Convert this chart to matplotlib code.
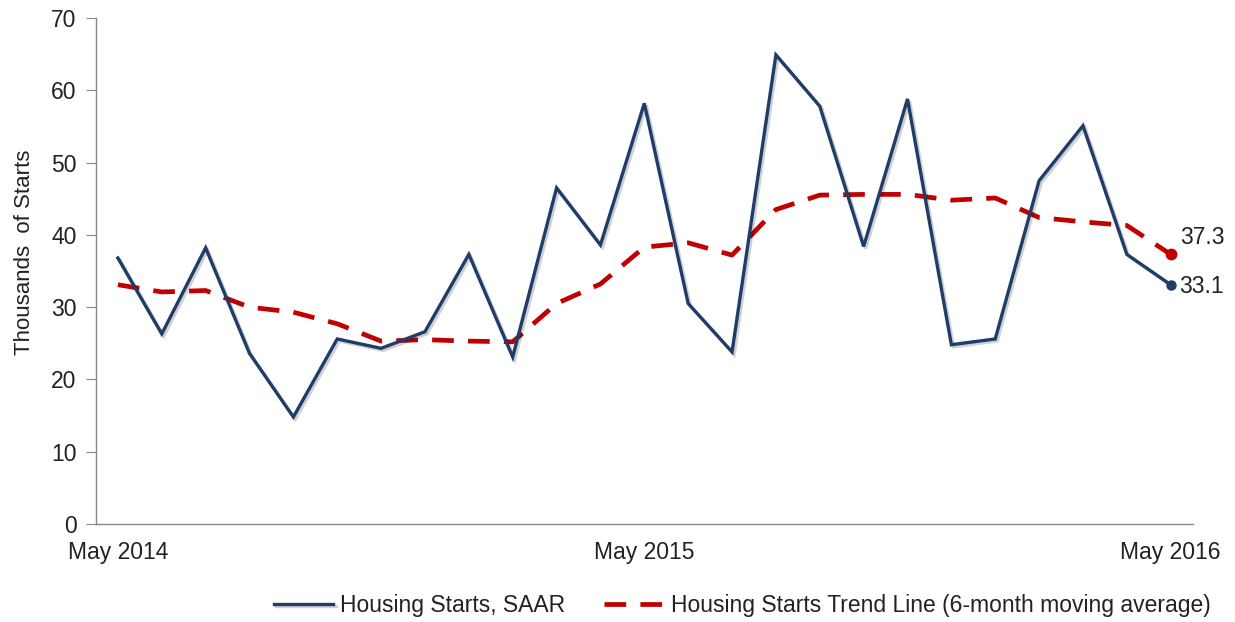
import matplotlib
matplotlib.use("Agg")
import matplotlib.pyplot as plt
import matplotlib.patheffects as pe

months = ["May 2014", "Jun 2014", "Jul 2014", "Aug 2014", "Sep 2014", "Oct 2014",
          "Nov 2014", "Dec 2014", "Jan 2015", "Feb 2015", "Mar 2015", "Apr 2015",
          "May 2015", "Jun 2015", "Jul 2015", "Aug 2015", "Sep 2015", "Oct 2015",
          "Nov 2015", "Dec 2015", "Jan 2016", "Feb 2016", "Mar 2016", "Apr 2016",
          "May 2016"]
starts = [36.8, 26.3, 38.2, 23.6, 14.8, 25.6, 24.3, 26.6, 37.3, 23.1, 46.5, 38.6,
          58.2, 30.5, 23.8, 64.9, 57.8, 38.4, 58.8, 24.8, 25.6, 47.5, 55.1, 37.3, 33.1]
trend = [33.1, 32.1, 32.3, 30.0, 29.3, 27.7, 25.3, 25.5, 25.3, 25.2, 30.5, 33.2,
         38.3, 38.9, 37.2, 43.5, 45.5, 45.6, 45.6, 44.8, 45.1, 42.4, 41.8, 41.3, 37.3]
tick_labels = ["May 2014", "May 2015", "May 2016"]
tick_idx = [0, 12, 24]

plt.rcParams['font.family'] = ['Liberation Sans', 'DejaVu Sans']

fig = plt.figure(figsize=(12.35, 6.22), dpi=100)
ax = fig.add_axes([0.0777, 0.1576, 0.888, 0.8134])

x = list(range(len(months)))
blue = '#1f3d68'
red = '#c00000'
fs = 16.5

ax.plot(x, starts, color=blue, lw=2.4, solid_joinstyle='miter',
        path_effects=[pe.SimpleLineShadow(offset=(1.5, -1.5), alpha=0.18, shadow_color='#000000'), pe.Normal()],
        label='Housing Starts, SAAR', zorder=3)
ax.plot(x, trend, color=red, lw=3.4, dashes=(4.6, 3.0), dash_capstyle='butt',
        label='Housing Starts Trend Line (6-month moving average)', zorder=2)

ax.plot([x[-1]], [starts[-1]], 'o', color=blue, ms=6.5, zorder=4)
ax.plot([x[-1]], [trend[-1]], 'o', color=red, ms=7.5, zorder=4)
ax.text(x[-1] + 0.22, trend[-1] + 2.4, f"{trend[-1]:.1f}", fontsize=fs, color='#222222',
        ha='left', va='center')
ax.text(x[-1] + 0.2, starts[-1] - 0.3, f"{starts[-1]:.1f}", fontsize=fs, color='#222222',
        ha='left', va='center')

ax.set_xlim(-0.5, 24.5)
ax.set_ylim(0, 70)
ax.set_yticks(range(0, 71, 10))
ax.set_xticks(tick_idx)
ax.set_xticklabels(tick_labels)
ax.tick_params(axis='y', labelsize=fs, length=7, color='#888888', labelcolor='#222222', pad=7)
ax.tick_params(axis='x', labelsize=fs, length=0, labelcolor='#222222', pad=12)
ax.set_ylabel('Thousands  of Starts', fontsize=16, color='#222222')
ax.yaxis.set_label_coords(-0.056, 0.537)

for s in ['top', 'right']:
    ax.spines[s].set_visible(False)
for s in ['left', 'bottom']:
    ax.spines[s].set_color('#888888')
    ax.spines[s].set_linewidth(1.0)

leg = fig.legend(loc='center', bbox_to_anchor=(0.601, 0.026), ncol=2, frameon=False,
                 fontsize=fs, handlelength=2.6, handletextpad=0.3, columnspacing=1.7)
for t in leg.get_texts():
    t.set_color('#222222')

fig.savefig('out.png', dpi=100)
